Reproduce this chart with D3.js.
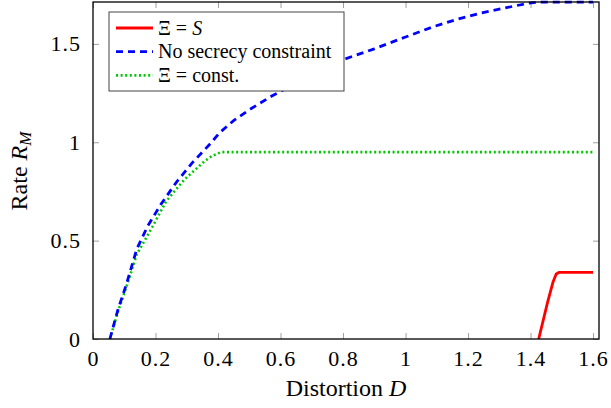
<!DOCTYPE html>
<html>
<head>
<meta charset="utf-8">
<script src="https://cdn.jsdelivr.net/npm/d3@7"></script>
<style>
  body { margin: 0; background: #fff; }
</style>
</head>
<body>
<svg width="611" height="408"></svg>
<script>
// series: [distortion D, rate R_M]
const secretS = [[1.426,0],[1.455,0.19],[1.472,0.29],[1.482,0.33],[1.492,0.339],[1.6,0.339]];
const noSecrecy = [[0.054,0],[0.08,0.15],[0.106,0.274],[0.14,0.457],[0.175,0.574],[0.218,0.686],
  [0.266,0.795],[0.316,0.893],[0.372,0.987],[0.406,1.05],[0.45,1.11],[0.5,1.165],[0.572,1.235],
  [0.62,1.275],[0.7,1.34],[0.8,1.42],[0.9,1.475],[1.0,1.535],[1.09,1.588],[1.165,1.625],
  [1.24,1.656],[1.313,1.681],[1.39,1.706],[1.42,1.712],[1.6,1.712]];
const constXi = [[0.054,0],[0.08,0.14],[0.11,0.28],[0.14,0.43],[0.19,0.57],[0.234,0.70],
  [0.292,0.81],[0.358,0.905],[0.38,0.93],[0.41,0.95],[1.6,0.95]];

const xTicks = [0,0.2,0.4,0.6,0.8,1,1.2,1.4,1.6];
const yTicks = [0,0.5,1,1.5];
const legendNames = ["Ξ = S", "No secrecy constraint", "Ξ = const."];

const FONT = '"Liberation Serif"';
const svg = d3.select("svg");
const mLeft = 93, mRight = 599, mTop = 2, mBottom = 339;

const x = d3.scaleLinear().domain([0, 1.619]).range([mLeft, mRight]);
const y = d3.scaleLinear().domain([0, 1.713]).range([mBottom, mTop]);

// tick marks (inward, gray)
const tickColor = "#a0a0a0";
svg.append("g").attr("transform", `translate(0,${mBottom})`)
  .call(d3.axisBottom(x).tickValues(xTicks).tickSizeInner(-6).tickSizeOuter(0).tickFormat(d3.format("")))
  .call(g => g.select(".domain").remove())
  .call(g => g.selectAll("line").attr("stroke", tickColor))
  .call(g => g.selectAll("text").attr("y", 11).attr("fill", "#000")
    .style("font-family", FONT).style("font-size", "22px").style("letter-spacing", "1px"));
svg.append("g").attr("transform", `translate(0,${mTop})`)
  .call(d3.axisTop(x).tickValues(xTicks).tickSizeInner(-6).tickSizeOuter(0).tickFormat(""))
  .call(g => g.select(".domain").remove())
  .call(g => g.selectAll("line").attr("stroke", tickColor));
svg.append("g").attr("transform", `translate(${mLeft},0)`)
  .call(d3.axisLeft(y).tickValues(yTicks).tickSizeInner(-6).tickSizeOuter(0).tickFormat(d3.format("")))
  .call(g => g.select(".domain").remove())
  .call(g => g.selectAll("line").attr("stroke", tickColor))
  .call(g => g.selectAll("text").attr("x", -12).attr("fill", "#000")
    .style("font-family", FONT).style("font-size", "22px").style("letter-spacing", "1px"));
svg.append("g").attr("transform", `translate(${mRight},0)`)
  .call(d3.axisRight(y).tickValues(yTicks).tickSizeInner(-6).tickSizeOuter(0).tickFormat(""))
  .call(g => g.select(".domain").remove())
  .call(g => g.selectAll("line").attr("stroke", tickColor));

const line = d3.line().x(d => x(d[0])).y(d => y(d[1]));

svg.append("path").datum(constXi).attr("d", line)
  .attr("fill", "none").attr("stroke", "#00c800").attr("stroke-width", 2.6)
  .attr("stroke-dasharray", "2,2.6");
svg.append("path").datum(noSecrecy).attr("d", line)
  .attr("fill", "none").attr("stroke", "#0000ff").attr("stroke-width", 2.8)
  .attr("stroke-dasharray", "7,5");
svg.append("path").datum(secretS).attr("d", line)
  .attr("fill", "none").attr("stroke", "#ff0000").attr("stroke-width", 2.8)
  .attr("stroke-linejoin", "round");

// frame
svg.append("rect").attr("x", mLeft).attr("y", mTop).attr("width", mRight - mLeft).attr("height", mBottom - mTop)
  .attr("fill", "none").attr("stroke", "#000").attr("stroke-width", 1.3);

// legend
const lg = svg.append("g");
lg.append("rect").attr("x", 109).attr("y", 12).attr("width", 235).attr("height", 79)
  .attr("fill", "#fff").attr("stroke", "#444").attr("stroke-width", 1);
const styles = [
  {c: "#ff0000", dash: null},
  {c: "#0000ff", dash: "7,5"},
  {c: "#00c800", dash: "2,2.6"}
];
legendNames.forEach((name, i) => {
  const cy = 28 + i * 23.7;
  lg.append("line").attr("x1", 116).attr("x2", 153).attr("y1", cy).attr("y2", cy)
    .attr("stroke", styles[i].c).attr("stroke-width", 2.8)
    .attr("stroke-dasharray", styles[i].dash);
  const t = lg.append("text").attr("x", 158).attr("y", cy + 6.5)
    .style("font-family", FONT).style("font-size", "20px");
  if (i === 0) {
    t.append("tspan").text("Ξ = ");
    t.append("tspan").attr("font-style", "italic").text("S");
  } else {
    t.text(name);
  }
});

// axis labels
const xl = svg.append("text").attr("x", 346).attr("y", 396).attr("text-anchor", "middle")
  .style("font-family", FONT).style("font-size", "24px");
xl.append("tspan").text("Distortion ");
xl.append("tspan").attr("font-style", "italic").text("D");

const yl = svg.append("text").attr("transform", "translate(27,171) rotate(-90)")
  .attr("text-anchor", "middle").style("font-family", FONT).style("font-size", "24px");
yl.append("tspan").text("Rate ");
yl.append("tspan").attr("font-style", "italic").text("R");
yl.append("tspan").attr("font-style", "italic").attr("dy", 4).style("font-size", "17px").text("M");
</script>
</body>
</html>
